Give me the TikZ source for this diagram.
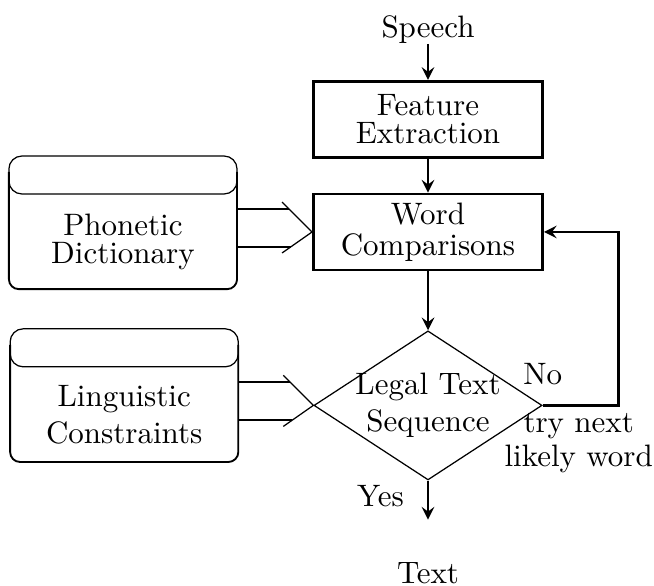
\documentclass[tikz,border=0pt]{standalone}
\usepackage{tikz}
\usetikzlibrary{shapes.geometric,arrows,positioning,calc}

\begin{document}
\begin{tikzpicture}[
    x=0.3226pt, y=-0.3226pt,
    box/.style={rectangle, draw=black, line width=0.9pt,
                minimum width=73.9pt, minimum height=24.5pt,
                inner sep=0pt, align=center},
    decision/.style={diamond, draw=black, line width=0.4pt, shape aspect=1.53,
                     minimum width=73.6pt, minimum height=48.1pt,
                     inner sep=-4pt, align=center},
    store/.style={rectangle, minimum width=73.2pt, minimum height=30.3pt,
                  inner sep=0pt, align=center},
    lbl/.style={inner sep=0pt, align=center},
    arrow/.style={->, >=stealth, line width=0.8pt},
    bandline/.style={line width=0.4pt, rounded corners=4.2pt},
    bodyline/.style={line width=0.6pt, rounded corners=3.2pt},
    shaft/.style={line width=0.6pt},
    tipline/.style={line width=0.4pt}
]
\useasboundingbox (0,0) rectangle (654,585);

% main column
\node[lbl] (speech) at (428,29.4) {Speech};
\node[box, below=11.6pt of speech] (feat) {Feature\\[-3pt]Extraction};
\node[box, below=10.95pt of feat] (word) {Word\\[-2pt]Comparisons};
\node[decision, below=19pt of word] (legal) {Legal Text\\Sequence};
\coordinate[below=12.6pt of legal] (out);
\node[lbl, below=13.5pt of out] (result) {Text};

% knowledge sources
\node[store, left=24.2pt of word, yshift=-3.1pt] (dict) {Phonetic\\[-3pt]Dictionary};
\node[store, left=24.2pt of legal, yshift=-2.9pt] (ling) {Linguistic\\Constraints};

\foreach \n in {dict,ling}{
  \draw[bandline] ($(\n.north west)+(0,-38)$) rectangle (\n.north east);
  \draw[bodyline] ($(\n.north west)+(0,-22)$) -- (\n.south west)
      -- (\n.south east) -- ($(\n.north east)+(0,-22)$);
}

% open double arrows
\foreach \src/\dst in {dict/word,ling/legal}{
  \coordinate (hu) at ($(\dst.west)+(-23,-23)$);
  \coordinate (hl) at ($(\dst.west)+(-21.4,15)$);
  \draw[shaft] (\src.east |- hu) -- (hu);
  \draw[shaft] (\src.east |- hl) -- (hl);
  \draw[tipline] ($(\dst.west)+(-30,-30)$) -- (\dst.west) -- ($(\dst.west)+(-30,21)$);
}

\draw[arrow] (speech) -- (feat);
\draw[arrow] (feat) -- (word);
\draw[arrow] (word) -- (legal);
\draw[arrow] (legal) -- node[lbl, left=7.4pt, pos=0.4] (yes) {Yes} (out);
\draw[arrow] (legal.east) -- ++(76,0) |- (word.east);
\node[lbl, above=6.5pt of legal.east] (no) {No};
\node[lbl, below=2.5pt of legal.east, xshift=11.6pt] (retry) {try next\\[-1pt]likely word};
\end{tikzpicture}
\end{document}
